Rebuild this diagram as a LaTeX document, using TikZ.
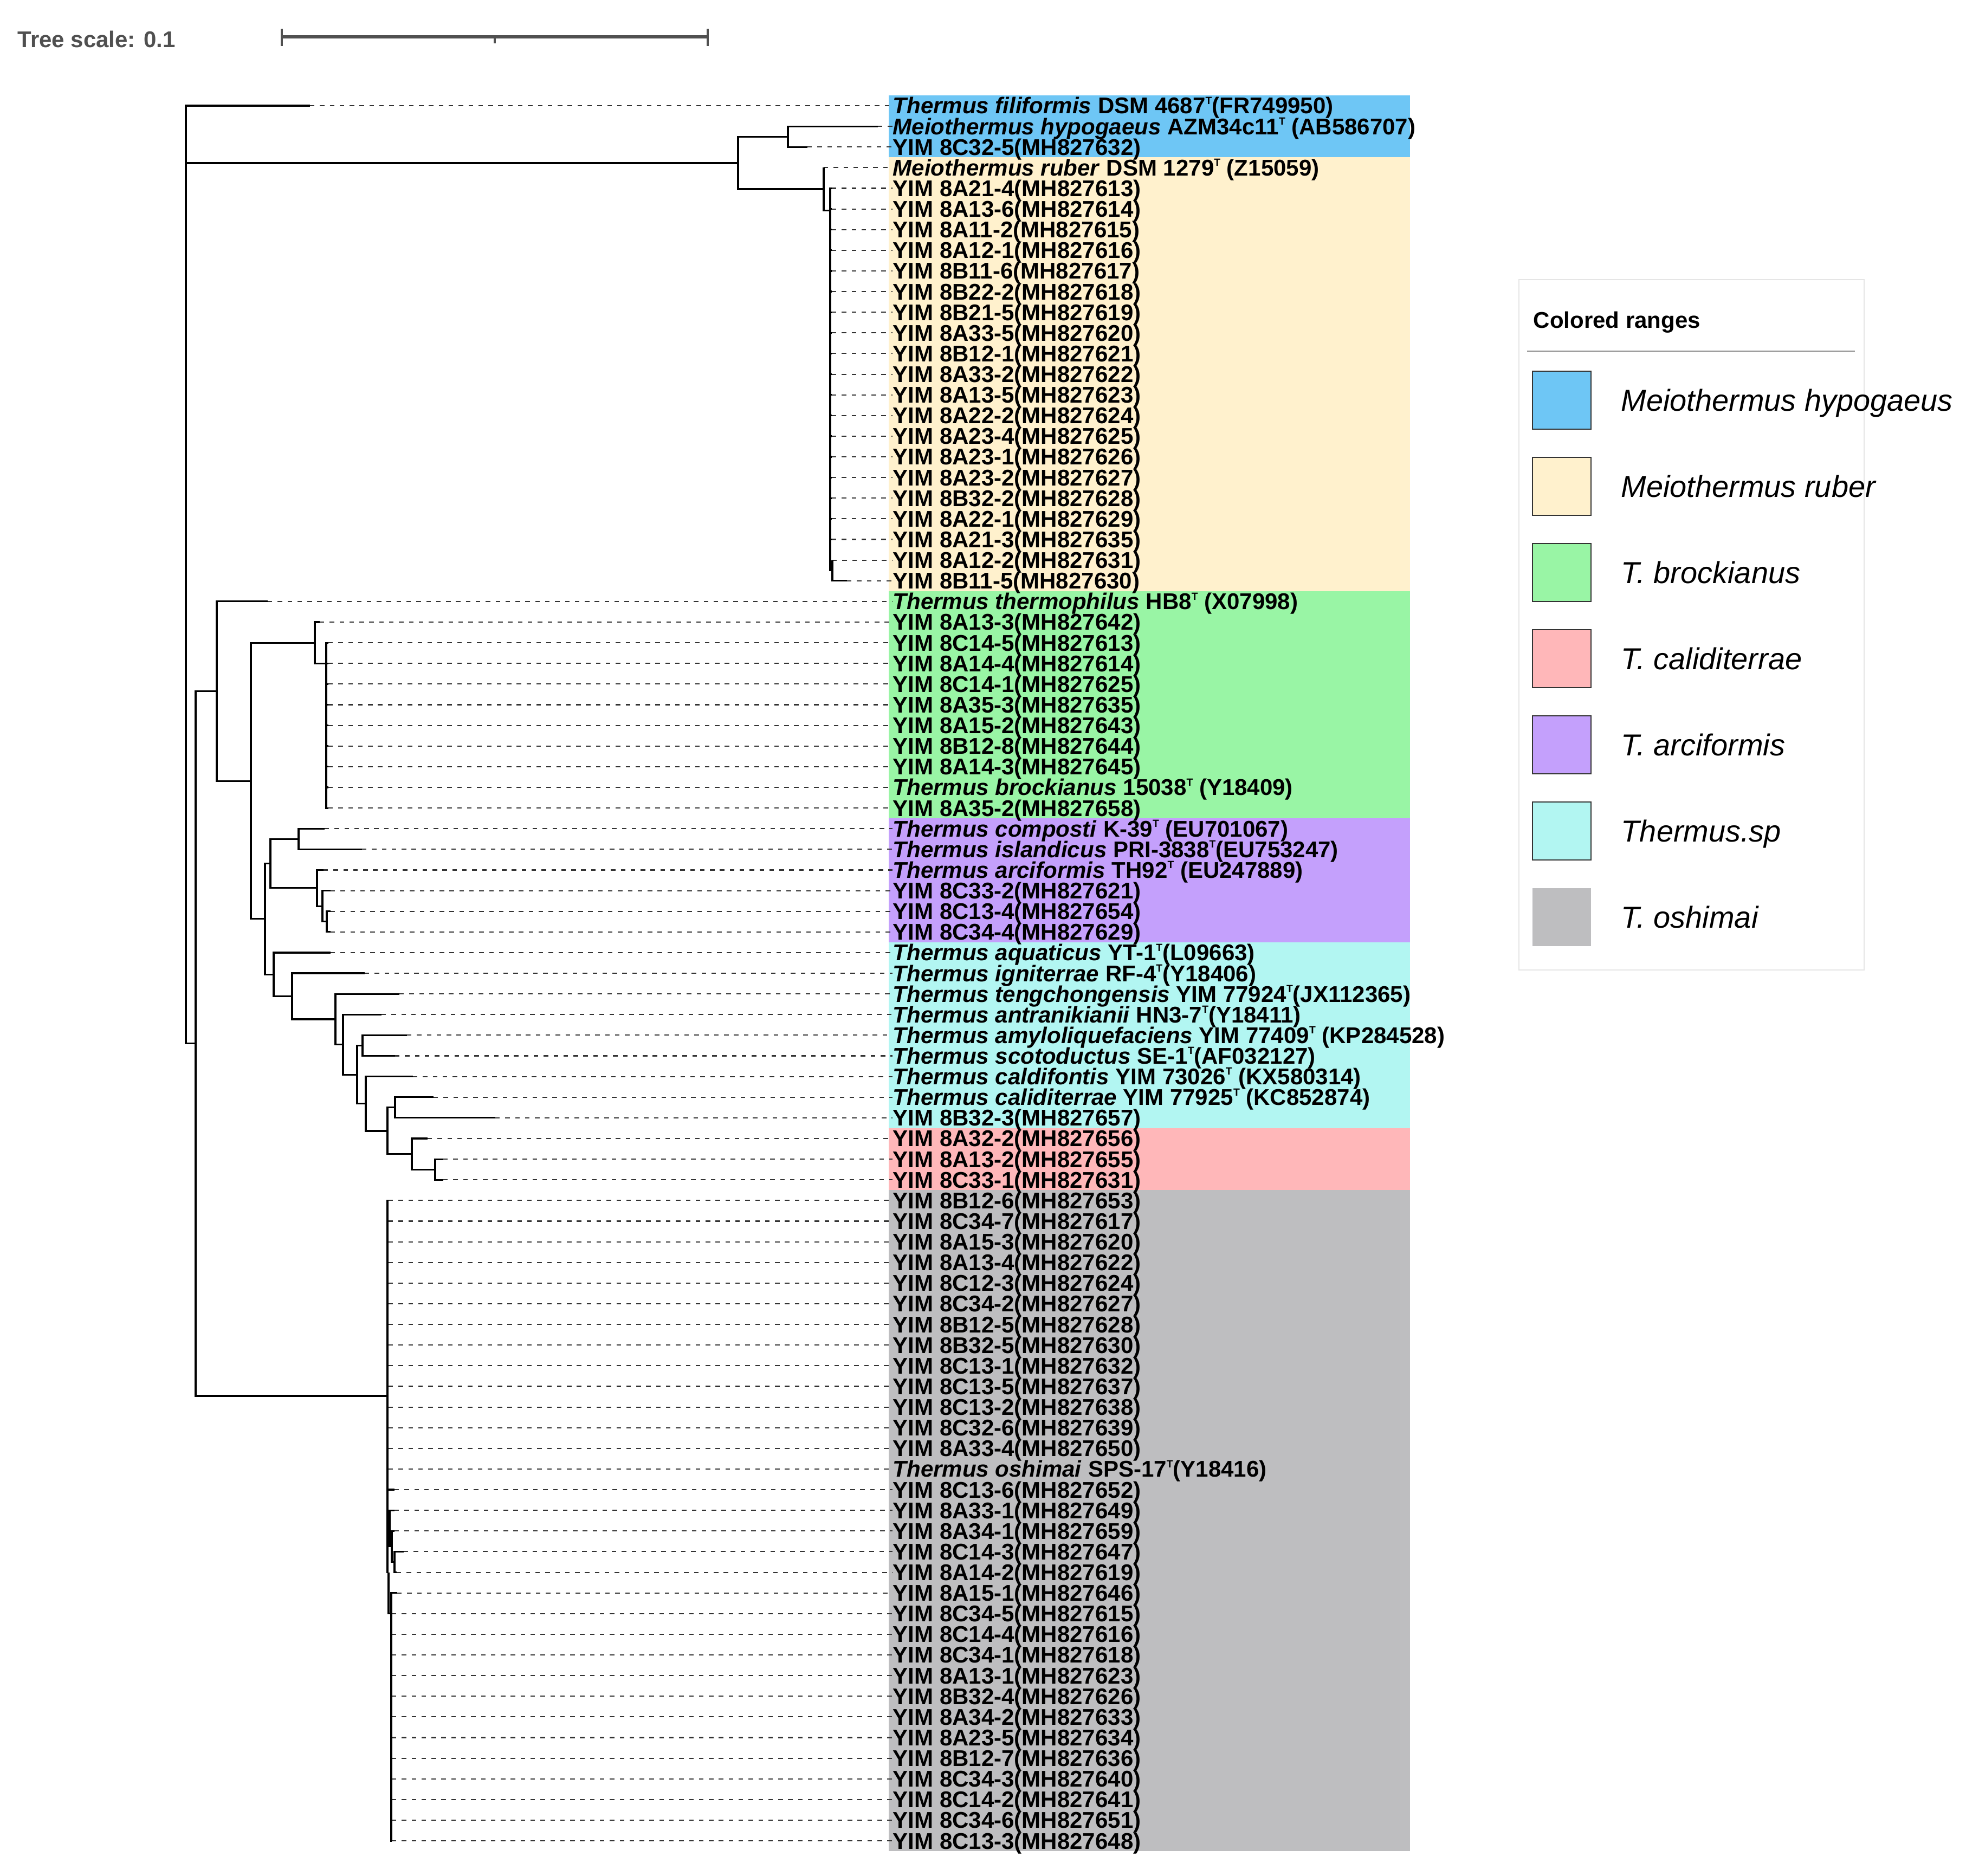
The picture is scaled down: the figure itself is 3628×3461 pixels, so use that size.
\documentclass[tikz,border=0pt]{standalone}
\usepackage{fontspec}
\setmainfont{Liberation Sans}
\usepackage{xcolor}
\usepackage{tikz}
\definecolor{rngblue}{RGB}{110,198,245}
\definecolor{rngcream}{RGB}{255,241,205}
\definecolor{rnggreen}{RGB}{153,245,165}
\definecolor{rngpurple}{RGB}{196,160,252}
\definecolor{rngcyan}{RGB}{178,246,242}
\definecolor{rngpink}{RGB}{255,183,185}
\definecolor{rnggray}{RGB}{190,190,192}
\definecolor{scalegray}{RGB}{80,80,80}
% y of leaf row #1 (1 px = 0.01cm)
\newcommand{\rowy}[1]{(156.88+38.12*(#1))}
\newcommand{\tsup}{\raisebox{0.42em}{\fontsize{5.5}{5.5}\selectfont T}}
\tikzset{
  branch/.style={line width=0.9pt, black},
  leader/.style={line width=0.6pt, black!80, dash pattern=on 2.4pt off 2.8pt},
  leaf/.style={anchor=west, inner sep=0pt, text height=8.5pt, text depth=0pt,
    font=\fontsize{11.95}{11.95}\selectfont\bfseries},
  legendlab/.style={anchor=west, inner sep=0pt, text height=11.4pt, text depth=0pt,
    font=\fontsize{15.9}{15.9}\selectfont\itshape},
  swatch/.style={draw=black!80, line width=0.6pt}
}

\begin{document}
\begin{tikzpicture}[x=0.01cm, y=-0.01cm]
\useasboundingbox (0,0) rectangle (3628,3461);

% Tree scale
\node[anchor=base west, inner sep=0pt, scalegray, font=\fontsize{11.95}{11.95}\selectfont\bfseries] (scaletxt) at (32,88) {Tree scale: 0.1};
\draw[scalegray, line width=1.6pt] (520,68) -- (1306,68);
\draw[scalegray, line width=0.9pt] (520,53) -- (520,85) (1306,53) -- (1306,85) (913,68) -- (913,80);

% Colored ranges
\foreach \col/\a/\b in {rngblue/1/3, rngcream/4/24, rnggreen/25/35, rngpurple/36/41,
                        rngcyan/42/50, rngpink/51/53, rnggray/54/85}
  \fill[\col] (1640,{\rowy{\a-0.5}}) rectangle (2602,{\rowy{\b+0.5}});

% Leaves: row / tip / label
\foreach \i/\tip/\lab in {
  1/572/{\textit{Thermus filiformis} DSM 4687\tsup(FR749950)},
  2/1620/{\textit{Meiothermus hypogaeus} AZM34c11\tsup\ (AB586707)},
  3/1490/{YIM 8C32-5(MH827632)},
  4/1520/{\textit{Meiothermus ruber} DSM 1279\tsup\ (Z15059)},
  5/1535/{YIM 8A21-4(MH827613)},
  6/1535/{YIM 8A13-6(MH827614)},
  7/1535/{YIM 8A11-2(MH827615)},
  8/1535/{YIM 8A12-1(MH827616)},
  9/1535/{YIM 8B11-6(MH827617)},
  10/1535/{YIM 8B22-2(MH827618)},
  11/1535/{YIM 8B21-5(MH827619)},
  12/1535/{YIM 8A33-5(MH827620)},
  13/1535/{YIM 8B12-1(MH827621)},
  14/1535/{YIM 8A33-2(MH827622)},
  15/1535/{YIM 8A13-5(MH827623)},
  16/1535/{YIM 8A22-2(MH827624)},
  17/1535/{YIM 8A23-4(MH827625)},
  18/1535/{YIM 8A23-1(MH827626)},
  19/1535/{YIM 8A23-2(MH827627)},
  20/1535/{YIM 8B32-2(MH827628)},
  21/1535/{YIM 8A22-1(MH827629)},
  22/1535/{YIM 8A21-3(MH827635)},
  23/1536/{YIM 8A12-2(MH827631)},
  24/1563/{YIM 8B11-5(MH827630)},
  25/494/{\textit{Thermus thermophilus} HB8\tsup\ (X07998)},
  26/590/{YIM 8A13-3(MH827642)},
  27/606/{YIM 8C14-5(MH827613)},
  28/606/{YIM 8A14-4(MH827614)},
  29/606/{YIM 8C14-1(MH827625)},
  30/606/{YIM 8A35-3(MH827635)},
  31/606/{YIM 8A15-2(MH827643)},
  32/606/{YIM 8B12-8(MH827644)},
  33/606/{YIM 8A14-3(MH827645)},
  34/606/{\textit{Thermus brockianus} 15038\tsup\ (Y18409)},
  35/606/{YIM 8A35-2(MH827658)},
  36/599/{\textit{Thermus composti} K-39\tsup\ (EU701067)},
  37/668/{\textit{Thermus islandicus} PRI-3838\tsup(EU753247)},
  38/597/{\textit{Thermus arciformis} TH92\tsup\ (EU247889)},
  39/610/{YIM 8C33-2(MH827621)},
  40/610/{YIM 8C13-4(MH827654)},
  41/610/{YIM 8C34-4(MH827629)},
  42/610/{\textit{Thermus aquaticus} YT-1\tsup(L09663)},
  43/673/{\textit{Thermus igniterrae} RF-4\tsup(Y18406)},
  44/737/{\textit{Thermus tengchongensis} YIM 77924\tsup(JX112365)},
  45/704/{\textit{Thermus antranikianii} HN3-7\tsup(Y18411)},
  46/751/{\textit{Thermus amyloliquefaciens} YIM 77409\tsup\ (KP284528)},
  47/729/{\textit{Thermus scotoductus} SE-1\tsup(AF032127)},
  48/762/{\textit{Thermus caldifontis} YIM 73026\tsup\ (KX580314)},
  49/800/{\textit{Thermus caliditerrae} YIM 77925\tsup\ (KC852874)},
  50/914/{YIM 8B32-3(MH827657)},
  51/789/{YIM 8A32-2(MH827656)},
  52/818/{YIM 8A13-2(MH827655)},
  53/818/{YIM 8C33-1(MH827631)},
  54/717/{YIM 8B12-6(MH827653)},
  55/717/{YIM 8C34-7(MH827617)},
  56/717/{YIM 8A15-3(MH827620)},
  57/717/{YIM 8A13-4(MH827622)},
  58/717/{YIM 8C12-3(MH827624)},
  59/717/{YIM 8C34-2(MH827627)},
  60/717/{YIM 8B12-5(MH827628)},
  61/717/{YIM 8B32-5(MH827630)},
  62/717/{YIM 8C13-1(MH827632)},
  63/717/{YIM 8C13-5(MH827637)},
  64/717/{YIM 8C13-2(MH827638)},
  65/717/{YIM 8C32-6(MH827639)},
  66/717/{YIM 8A33-4(MH827650)},
  67/717/{\textit{Thermus oshimai} SPS-17\tsup(Y18416)},
  68/728/{YIM 8C13-6(MH827652)},
  69/728/{YIM 8A33-1(MH827649)},
  70/728/{YIM 8A34-1(MH827659)},
  71/745/{YIM 8C14-3(MH827647)},
  72/732/{YIM 8A14-2(MH827619)},
  73/733/{YIM 8A15-1(MH827646)},
  74/723/{YIM 8C34-5(MH827615)},
  75/723/{YIM 8C14-4(MH827616)},
  76/723/{YIM 8C34-1(MH827618)},
  77/723/{YIM 8A13-1(MH827623)},
  78/723/{YIM 8B32-4(MH827626)},
  79/723/{YIM 8A34-2(MH827633)},
  80/723/{YIM 8A23-5(MH827634)},
  81/723/{YIM 8B12-7(MH827636)},
  82/723/{YIM 8C34-3(MH827640)},
  83/723/{YIM 8C14-2(MH827641)},
  84/723/{YIM 8C34-6(MH827651)},
  85/723/{YIM 8C13-3(MH827648)}} {
  \coordinate (t\i) at (\tip,{\rowy{\i}});
  \node[leaf] (l\i) at (1647,{\rowy{\i}}) {\lab};
  \draw[leader] (t\i) -- (l\i.west);
}

% Internal nodes
\coordinate (root) at (343,{\rowy{23.7}});
\coordinate (nM)   at (1362,{\rowy{3.78}});
\coordinate (nH)   at (1454,{\rowy{2.5}});
\coordinate (nRb)  at (1520,{\rowy{5.04}});
\coordinate (nY)   at (1532,{\rowy{6.07}});
\coordinate (nY3)  at (1536,{\rowy{23.5}});
\coordinate (nT)   at (361,{\rowy{46.4}});
\coordinate (nU)   at (400,{\rowy{29.34}});
\coordinate (nB)   at (463,{\rowy{33.69}});
\coordinate (nBk)  at (581,{\rowy{27}});
\coordinate (nBk2) at (602,{\rowy{28}});
\coordinate (nA1)  at (489,{\rowy{40.37}});
\coordinate (nArc) at (499,{\rowy{37.69}});
\coordinate (nCi)  at (551,{\rowy{36.5}});
\coordinate (nAr)  at (585,{\rowy{38.875}});
\coordinate (nAr2) at (595,{\rowy{39.75}});
\coordinate (nAr3) at (603,{\rowy{40.5}});
\coordinate (nS)   at (505,{\rowy{43.06}});
\coordinate (nS2)  at (539,{\rowy{44.11}});
\coordinate (nS3)  at (619,{\rowy{45.23}});
\coordinate (nS4)  at (633,{\rowy{46.45}});
\coordinate (nS5)  at (659,{\rowy{47.91}});
\coordinate (nS6)  at (669,{\rowy{46.5}});
\coordinate (nS7)  at (675,{\rowy{49.31}});
\coordinate (nS8)  at (715,{\rowy{50.63}});
\coordinate (nS9)  at (729,{\rowy{49.5}});
\coordinate (nS10) at (760,{\rowy{51.75}});
\coordinate (nS11) at (803,{\rowy{52.5}});
\coordinate (nO)   at (715,{\rowy{63.46}});
\coordinate (nP1)  at (719,{\rowy{69.75}});
\coordinate (nP2)  at (723,{\rowy{70.75}});
\coordinate (nP3)  at (728,{\rowy{71.5}});
\coordinate (nQ)   at (717,{\rowy{72}});
\coordinate (nQ2)  at (722,{\rowy{74}});

% Branches
\foreach \a/\b in {root/t1, root/nM, root/nT, nM/nH, nM/nRb, nH/t2, nH/t3,
                   nRb/t4, nRb/nY, nY/nY3, nY3/t23, nY3/t24,
                   nT/nU, nT/nO, nU/t25, nU/nB, nB/nBk, nB/nA1, nBk/t26, nBk/nBk2,
                   nA1/nArc, nA1/nS, nArc/nCi, nArc/nAr, nCi/t36, nCi/t37,
                   nAr/t38, nAr/nAr2, nAr2/t39, nAr2/nAr3, nAr3/t40, nAr3/t41,
                   nS/t42, nS/nS2, nS2/t43, nS2/nS3, nS3/t44, nS3/nS4, nS4/t45, nS4/nS5,
                   nS5/nS6, nS5/nS7, nS6/t46, nS6/t47, nS7/t48, nS7/nS8,
                   nS8/nS9, nS8/nS10, nS9/t49, nS9/t50, nS10/t51, nS10/nS11,
                   nS11/t52, nS11/t53,
                   nO/nP1, nO/nQ, nP1/t69, nP1/nP2, nP2/t70, nP2/nP3,
                   nP3/t71, nP3/t72, nQ/nQ2, nQ2/t73}
  \draw[branch] (\a) |- (\b);
\foreach \i in {5,...,22} \draw[branch] (nY) |- (t\i);
\foreach \i in {27,...,35} \draw[branch] (nBk2) |- (t\i);
\foreach \i in {54,...,68} \draw[branch] (nO) |- (t\i);
\foreach \i in {74,...,85} \draw[branch] (nQ2) |- (t\i);

% Legend
\draw[black!10, line width=0.8pt] (2803,516) rectangle (3440,1790);
\node[anchor=base west, inner sep=0pt, font=\fontsize{11.95}{11.95}\selectfont\bfseries] (lgtitle) at (2829,606) {Colored ranges};
\draw[black!45, line width=0.7pt] (2818,648) -- (3423,648);
\foreach \k/\col/\nm in {0/rngblue/Meiothermus hypogaeus, 1/rngcream/Meiothermus ruber,
                         2/rnggreen/T. brockianus, 3/rngpink/T. caliditerrae,
                         4/rngpurple/T. arciformis, 5/rngcyan/Thermus.sp} {
  \draw[swatch, fill=\col] (2828,{685+159*\k}) rectangle (2936,{792+159*\k});
  \node[legendlab] (g\k) at (2991,{738.5+159*\k}) {\nm};
}
\fill[rnggray] (2828,{685+159*6}) rectangle (2936,{792+159*6});
\node[legendlab] (g6) at (2991,{738.5+159*6}) {T. oshimai};
\end{tikzpicture}
\end{document}
